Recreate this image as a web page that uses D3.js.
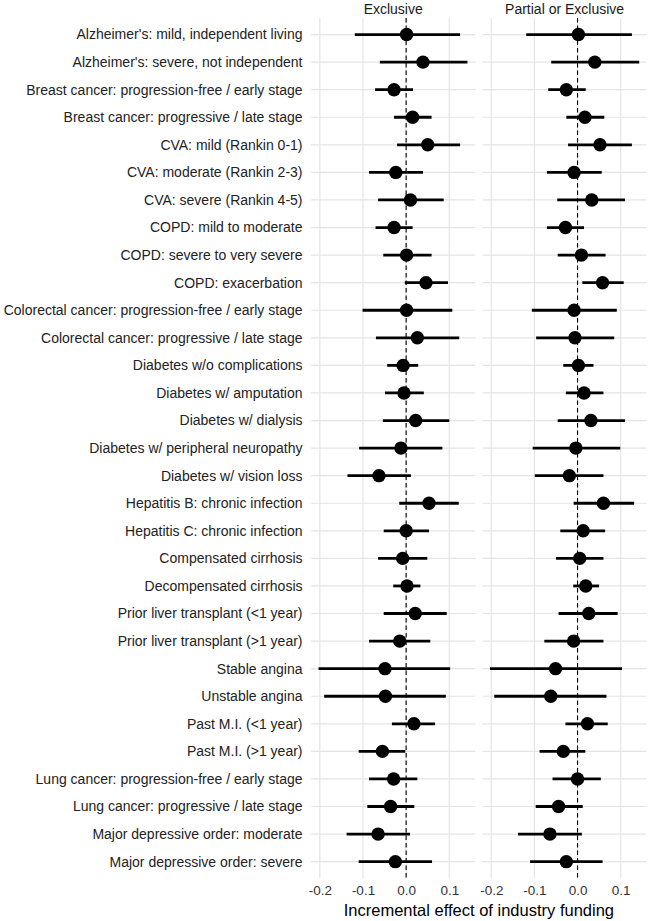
<!DOCTYPE html>
<html>
<head>
<meta charset="utf-8">
<script src="https://cdn.jsdelivr.net/npm/d3@7"></script>
<style>
  html, body { margin: 0; padding: 0; background: #fff; }
  svg { display: block; font-family: "Liberation Sans", Arial, Helvetica, sans-serif; }
</style>
</head>
<body>
<svg id="chart" width="650" height="921"></svg>
<script>
const categories = [
  "Alzheimer's: mild, independent living",
  "Alzheimer's: severe, not independent",
  "Breast cancer: progression-free / early stage",
  "Breast cancer: progressive / late stage",
  "CVA: mild (Rankin 0-1)",
  "CVA: moderate (Rankin 2-3)",
  "CVA: severe (Rankin 4-5)",
  "COPD: mild to moderate",
  "COPD: severe to very severe",
  "COPD: exacerbation",
  "Colorectal cancer: progression-free / early stage",
  "Colorectal cancer: progressive / late stage",
  "Diabetes w/o complications",
  "Diabetes w/ amputation",
  "Diabetes w/ dialysis",
  "Diabetes w/ peripheral neuropathy",
  "Diabetes w/ vision loss",
  "Hepatitis B: chronic infection",
  "Hepatitis C: chronic infection",
  "Compensated cirrhosis",
  "Decompensated cirrhosis",
  "Prior liver transplant (<1 year)",
  "Prior liver transplant (>1 year)",
  "Stable angina",
  "Unstable angina",
  "Past M.I. (<1 year)",
  "Past M.I. (>1 year)",
  "Lung cancer: progression-free / early stage",
  "Lung cancer: progressive / late stage",
  "Major depressive order: moderate",
  "Major depressive order: severe"
];

const panels = ["Exclusive", "Partial or Exclusive"];

// Exclusive
const exclusiveEst = [0.001, 0.039, -0.028, 0.015, 0.050, -0.024, 0.010, -0.028, 0.001, 0.046,
  0.001, 0.026, -0.007, -0.005, 0.022, -0.012, -0.063, 0.053, 0.000, -0.008,
  0.002, 0.021, -0.015, -0.049, -0.048, 0.018, -0.055, -0.029, -0.036, -0.065, -0.025];
const exclusiveLo = [-0.119, -0.061, -0.072, -0.028, -0.021, -0.086, -0.065, -0.071, -0.053, -0.003,
  -0.101, -0.070, -0.044, -0.049, -0.054, -0.109, -0.136, -0.016, -0.052, -0.065,
  -0.030, -0.052, -0.086, -0.203, -0.190, -0.033, -0.110, -0.086, -0.090, -0.138, -0.110];
const exclusiveHi = [0.125, 0.142, 0.016, 0.059, 0.125, 0.039, 0.087, 0.015, 0.059, 0.097,
  0.107, 0.123, 0.028, 0.041, 0.100, 0.084, 0.011, 0.122, 0.053, 0.049,
  0.033, 0.094, 0.056, 0.102, 0.092, 0.067, -0.002, 0.026, 0.019, 0.009, 0.060];

// Partial or Exclusive
const partialEst = [0.002, 0.040, -0.026, 0.017, 0.052, -0.008, 0.033, -0.028, 0.009, 0.058,
  -0.008, -0.006, 0.002, 0.015, 0.031, -0.004, -0.019, 0.060, 0.013, 0.005,
  0.019, 0.026, -0.009, -0.051, -0.062, 0.023, -0.033, 0.000, -0.044, -0.064, -0.026];
const partialLo = [-0.119, -0.061, -0.068, -0.026, -0.022, -0.071, -0.047, -0.071, -0.046, 0.011,
  -0.106, -0.096, -0.033, -0.027, -0.046, -0.104, -0.099, -0.009, -0.040, -0.050,
  -0.010, -0.044, -0.077, -0.203, -0.193, -0.028, -0.088, -0.058, -0.097, -0.138, -0.110];
const partialHi = [0.126, 0.143, 0.019, 0.062, 0.126, 0.056, 0.110, 0.015, 0.065, 0.107,
  0.091, 0.085, 0.037, 0.060, 0.110, 0.099, 0.060, 0.131, 0.064, 0.060,
  0.050, 0.093, 0.060, 0.103, 0.067, 0.070, 0.018, 0.054, 0.012, 0.010, 0.058];

const xTicks = [-0.2, -0.1, 0.0, 0.1];
const xTitle = "Incremental effect of industry funding";

const series = [
  { name: panels[0], est: exclusiveEst, lo: exclusiveLo, hi: exclusiveHi },
  { name: panels[1], est: partialEst, lo: partialLo, hi: partialHi }
];

const svg = d3.select("#chart");

const panelTop = 18, panelBottom = 878.2;
const panelW = 164.2, panelGap = 7.2;
const panelLeft0 = 311.1;

const y = d3.scalePoint()
  .domain(categories)
  .range([panelTop, panelBottom])
  .padding(0.6);

const allLo = d3.min(series, s => d3.min(s.lo));
const allHi = d3.max(series, s => d3.max(s.hi));
const span = allHi - allLo;
const xDomain = [allLo - 0.05 * span, allHi + 0.05 * span];

series.forEach((s, i) => {
  const x0 = panelLeft0 + i * (panelW + panelGap);
  const x = d3.scaleLinear().domain(xDomain).range([x0, x0 + panelW]);
  const g = svg.append("g");

  g.selectAll("line.hgrid").data(categories).join("line")
    .attr("x1", x0).attr("x2", x0 + panelW)
    .attr("y1", d => y(d)).attr("y2", d => y(d))
    .attr("stroke", "#e4e4e4").attr("stroke-width", 1.2);

  g.selectAll("line.vgrid").data(xTicks).join("line")
    .attr("x1", d => x(d)).attr("x2", d => x(d))
    .attr("y1", panelTop).attr("y2", panelBottom)
    .attr("stroke", "#e4e4e4").attr("stroke-width", 1.2);

  g.append("line")
    .attr("x1", x(0)).attr("x2", x(0))
    .attr("y1", panelTop).attr("y2", panelBottom)
    .attr("stroke", "#000").attr("stroke-width", 1.1)
    .attr("stroke-dasharray", "4.5,3");

  g.selectAll("line.ci").data(categories).join("line")
    .attr("x1", (d, j) => x(s.lo[j])).attr("x2", (d, j) => x(s.hi[j]))
    .attr("y1", d => y(d)).attr("y2", d => y(d))
    .attr("stroke", "#000").attr("stroke-width", 2.8);

  g.selectAll("circle").data(categories).join("circle")
    .attr("cx", (d, j) => x(s.est[j])).attr("cy", d => y(d))
    .attr("r", 6.7).attr("fill", "#000");

  const axis = d3.axisBottom(x).tickValues(xTicks).tickFormat(d3.format(".1f")).tickSize(0).tickPadding(7);
  const ax = svg.append("g").attr("transform", `translate(0,${panelBottom})`).call(axis);
  ax.select(".domain").remove();
  ax.selectAll("text")
    .attr("fill", "#333")
    .style("font-size", "13.5px")
    .style("font-family", "'Liberation Sans', Arial, sans-serif")
    .text(d => d3.format(".1f")(d).replace("−", "-"));

  svg.append("text")
    .attr("x", x0 + panelW / 2).attr("y", 14)
    .attr("text-anchor", "middle")
    .attr("fill", "#1a1a1a")
    .style("font-size", "14px")
    .text(s.name);
});

svg.append("g").selectAll("text").data(categories).join("text")
  .attr("x", 302.5).attr("y", d => y(d))
  .attr("dy", "0.35em")
  .attr("text-anchor", "end")
  .attr("fill", "#222")
  .style("font-size", "14px")
  .text(d => d);

svg.append("text")
  .attr("x", panelLeft0 + panelW + panelGap / 2).attr("y", 916)
  .attr("text-anchor", "middle")
  .attr("fill", "#000")
  .style("font-size", "16.5px")
  .text(xTitle);
</script>
</body>
</html>
